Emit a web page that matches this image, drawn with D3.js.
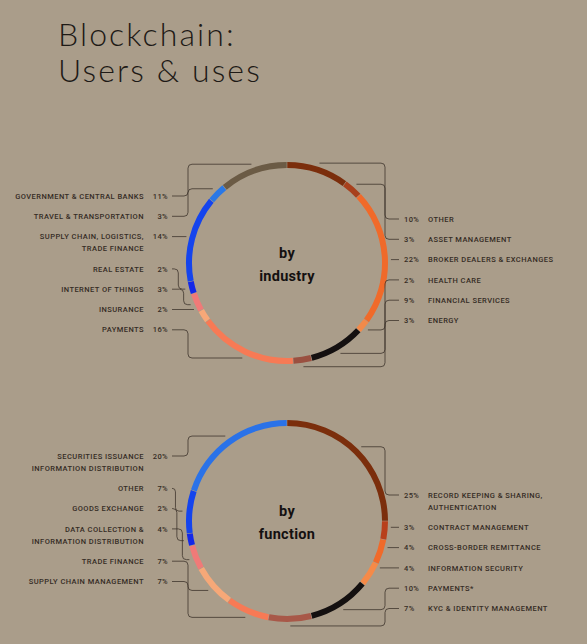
<!DOCTYPE html>
<html>
<head>
<meta charset="utf-8">
<script src="https://cdn.jsdelivr.net/npm/d3@7"></script>
<style>
  html, body { margin: 0; padding: 0; background: #aa9d8a; }
  svg { display: block; }
</style>
</head>
<body>
<svg id="chart" width="587" height="644"></svg>
<script>
// ---------- DATA ----------
const titleLines = ["Blockchain:", "Users & uses"];

const industryCategories = [
  "OTHER", "ASSET MANAGEMENT", "BROKER DEALERS & EXCHANGES", "HEALTH CARE",
  "FINANCIAL SERVICES", "ENERGY", "PAYMENTS", "INSURANCE", "INTERNET OF THINGS",
  "REAL ESTATE", "SUPPLY CHAIN, LOGISTICS,|TRADE FINANCE", "TRAVEL & TRANSPORTATION",
  "GOVERNMENT & CENTRAL BANKS"
];
const industryValues = [10, 3, 22, 2, 9, 3, 16, 2, 3, 2, 14, 3, 11];
const industryColors = [
  "#7b2e0c", "#a8401c", "#f06a2a", "#f28a4a", "#141010", "#9a5040",
  "#f77a55", "#f6a878", "#f07a78", "#1428e8", "#1444ee", "#2a78e6", "#6b5b45"
];

const functionCategories = [
  "RECORD KEEPING & SHARING,|AUTHENTICATION", "CONTRACT MANAGEMENT",
  "CROSS-BORDER REMITTANCE", "INFORMATION SECURITY", "PAYMENTS*",
  "KYC & IDENTITY MANAGEMENT", "SUPPLY CHAIN MANAGEMENT", "TRADE FINANCE",
  "DATA COLLECTION &|INFORMATION DISTRIBUTION", "GOODS EXCHANGE", "OTHER",
  "SECURITIES ISSUANCE|INFORMATION DISTRIBUTION"
];
const functionValues = [25, 3, 4, 4, 10, 7, 7, 7, 4, 2, 7, 20];
const functionColors = [
  "#7b2e0c", "#b8401c", "#f06a2a", "#f58a48", "#141010", "#a85848",
  "#f77a55", "#f6a878", "#f07a78", "#1428e8", "#1444ee", "#2a72e8"
];

// ---------- LAYOUT ----------
const svg = d3.select("#chart");

titleLines.forEach((t, i) => {
  svg.append("text")
    .attr("x", 58).attr("y", 46 + i * 36)
    .attr("font-family", "Lato, 'Open Sans', sans-serif")
    .attr("font-weight", 300)
    .attr("font-size", 32)
    .attr("letter-spacing", 2.1)
    .attr("fill", "#1e1a16")
    .text(t);
});

const R_OUT = 101, R_IN = 95;
const ROW = 20.3, EXTRA = 12;
const LEFT_PCT_X = 168, LEFT_TXT_X = 144, LEFT_LINE_X = 172;
const RIGHT_PCT_X = 404, RIGHT_TXT_X = 428, RIGHT_LINE_X = 399;
const LABEL_FONT = "Roboto, 'DejaVu Sans', sans-serif";

function leaderPath(xs, ys, xv, yt, xt) {
  if (Math.abs(yt - ys) < 0.5) return `M${xs},${ys}H${xt}`;
  const sx = Math.sign(xv - xs) || 1, sy = Math.sign(yt - ys), sx2 = Math.sign(xt - xv) || 1;
  const r = Math.min(4, Math.abs(yt - ys) / 2, Math.abs(xv - xs), Math.abs(xt - xv));
  return `M${xs},${ys}H${xv - sx * r}Q${xv},${ys} ${xv},${ys + sy * r}` +
         `V${yt - sy * r}Q${xv},${yt} ${xv + sx2 * r},${yt}H${xt}`;
}

function donut(cfg) {
  const { cx, cy, cats, vals, colors, center, leftStart, rightStart } = cfg;
  const g = svg.append("g");
  const data = cats.map((c, i) => ({ name: c, value: vals[i], color: colors[i] }));
  const pie = d3.pie().sort(null).value(d => d.value).startAngle(0).endAngle(2 * Math.PI);
  const arcs = pie(data);
  const arc = d3.arc().innerRadius(R_IN).outerRadius(R_OUT).padAngle(0.004);

  g.append("g").attr("transform", `translate(${cx},${cy})`)
    .selectAll("path").data(arcs).join("path")
    .attr("d", arc).attr("fill", d => d.data.color);

  // center text
  g.append("text")
    .attr("text-anchor", "middle")
    .attr("font-family", LABEL_FONT)
    .attr("font-weight", 700).attr("font-size", 14.5).attr("fill", "#141010")
    .attr("letter-spacing", 0.3)
    .selectAll("tspan").data(center).join("tspan")
    .attr("x", cx).attr("y", (d, i) => cy - 5 + i * 22.5)
    .text(d => d);

  const right = arcs.filter(a => (a.startAngle + a.endAngle) / 2 < Math.PI);
  const left = arcs.filter(a => (a.startAngle + a.endAngle) / 2 >= Math.PI).reverse();

  function place(list, startY, side) {
    let y = cy + startY;
    const isLeft = side === "left";
    list.forEach(a => {
      const lines = a.data.name.split("|");
      const mid = (a.startAngle + a.endAngle) / 2;
      const rr = R_OUT + 4;
      const tx = cx + rr * Math.sin(mid), ty = cy - rr * Math.cos(mid);
      const t = g.append("text")
        .attr("font-family", LABEL_FONT)
        .attr("font-weight", 500).attr("font-size", 7.5)
        .attr("letter-spacing", 0.45).attr("fill", "#352c25")
        .attr("text-anchor", isLeft ? "end" : "start");
      lines.forEach((ln, j) => {
        t.append("tspan").attr("x", isLeft ? LEFT_TXT_X : RIGHT_TXT_X)
          .attr("y", y + j * EXTRA).attr("dy", "0.35em").text(ln);
      });
      g.append("text")
        .attr("font-family", LABEL_FONT)
        .attr("font-weight", 500).attr("font-size", 7.5)
        .attr("letter-spacing", 0.4).attr("fill", "#352c25")
        .attr("text-anchor", isLeft ? "end" : "start")
        .attr("x", isLeft ? LEFT_PCT_X : RIGHT_PCT_X).attr("y", y).attr("dy", "0.35em")
        .text(a.data.value + "%");
      const xs = isLeft ? LEFT_LINE_X : RIGHT_LINE_X;
      let d;
      if (Math.abs(ty - y) < 10) {
        const dy = y - cy;
        const ex = Math.sqrt(Math.max(0, (R_OUT + 3) ** 2 - dy * dy));
        const xe = isLeft ? cx - ex : cx + ex;
        d = `M${xs},${y}H${xe}`;
      } else {
        const xv = isLeft ? Math.min(tx - 7, xs + 16) : Math.max(tx + 7, xs - 14);
        d = leaderPath(xs, y, xv, ty, tx);
      }
      g.append("path").attr("d", d).attr("fill", "none")
        .attr("stroke", "#3a3129").attr("stroke-width", 0.9).attr("stroke-opacity", 0.85);
      y += ROW + (lines.length - 1) * EXTRA;
    });
  }
  place(left, leftStart, "left");
  place(right, rightStart, "right");
}

donut({ cx: 287, cy: 263, cats: industryCategories, vals: industryValues,
        colors: industryColors, center: ["by", "industry"], leftStart: -67, rightStart: -44 });
donut({ cx: 287, cy: 521, cats: functionCategories, vals: functionValues,
        colors: functionColors, center: ["by", "function"], leftStart: -65, rightStart: -26 });
</script>
</body>
</html>
